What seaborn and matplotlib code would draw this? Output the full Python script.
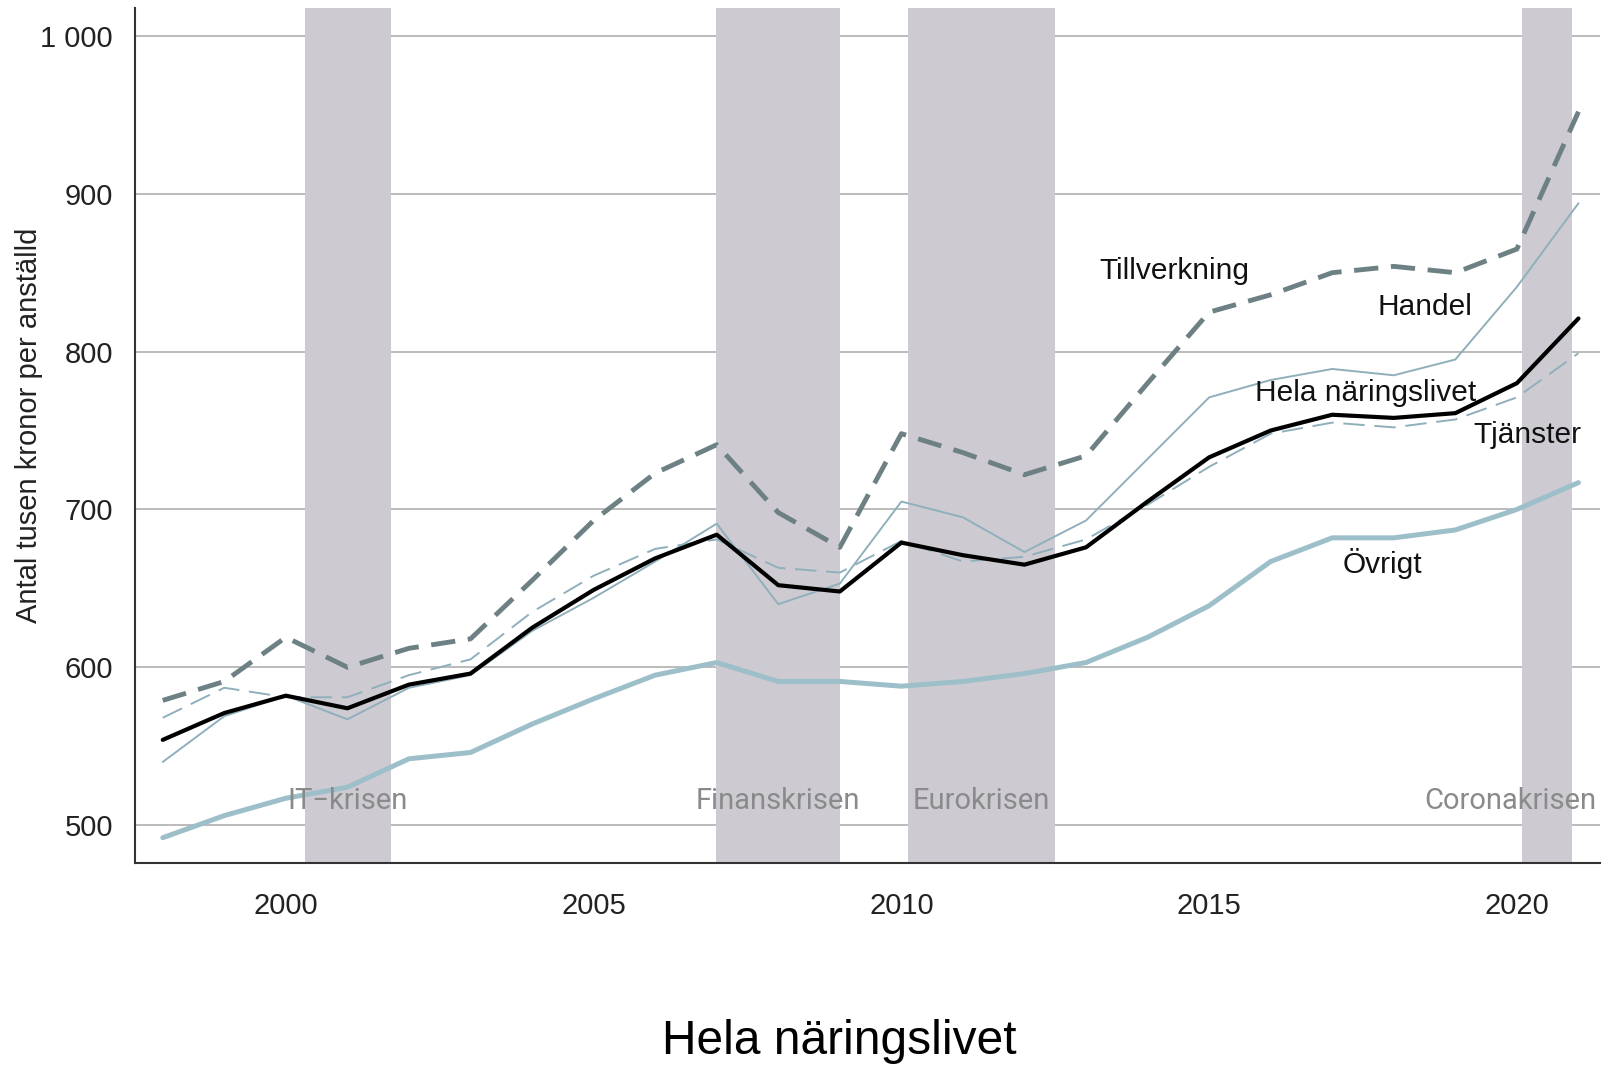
import pandas as pd
import seaborn as sns
import matplotlib.pyplot as plt

# Data (tusen kronor per anställd)
years = list(range(1998, 2022))
hela = [554, 571, 582, 574, 589, 596, 625, 649, 669, 684, 652, 648,
        679, 671, 665, 676, 705, 733, 750, 760, 758, 761, 780, 821]
tillverkning = [579, 591, 619, 600, 612, 618, 655, 693, 723, 741, 698, 676,
                748, 736, 722, 734, 780, 825, 836, 850, 854, 850, 865, 952]
handel = [540, 569, 582, 567, 587, 595, 623, 644, 667, 691, 640, 653,
          705, 695, 673, 693, 732, 771, 782, 789, 785, 795, 841, 894]
tjanster = [568, 587, 581, 581, 595, 605, 635, 658, 675, 681, 663, 660,
            680, 667, 670, 681, 703, 727, 748, 755, 752, 757, 771, 799]
ovrigt = [492, 506, 517, 524, 542, 546, 564, 580, 595, 603, 591, 591,
          588, 591, 596, 603, 619, 639, 667, 682, 682, 687, 700, 717]

series_names = ['Övrigt', 'Tjänster', 'Handel', 'Tillverkning', 'Hela näringslivet']
series_values = [ovrigt, tjanster, handel, tillverkning, hela]

crises = ['IT−krisen', 'Finanskrisen', 'Eurokrisen', 'Coronakrisen']
crisis_start = [2000.31, 2006.99, 2010.1, 2020.08]
crisis_end = [2001.71, 2009.0, 2012.49, 2020.89]

ytick_vals = [500, 600, 700, 800, 900, 1000]
ytick_labels = ['500', '600', '700', '800', '900', '1 000']
xtick_vals = [2000, 2005, 2010, 2015, 2020]

rows = []
for name, vals in zip(series_names, series_values):
    for yr, v in zip(years, vals):
        rows.append({'År': yr, 'Värde': v, 'Serie': name})
df = pd.DataFrame(rows)

sns.set_style('white')
plt.rcParams['font.family'] = ['Liberation Sans', 'DejaVu Sans']

fig = plt.figure(figsize=(16.04, 10.70), dpi=100)
ax = fig.add_axes([0.0842, 0.1935, 0.9133, 0.799])

# Krisperioder
for s, e in zip(crisis_start, crisis_end):
    ax.axvspan(s, e, color='#cdcbd1', lw=0, zorder=1)

palette = {'Övrigt': '#9dbfca', 'Tjänster': '#8fb0bb', 'Handel': '#8fb0bb',
           'Tillverkning': '#6d8185', 'Hela näringslivet': '#000000'}
dashes = {'Övrigt': '', 'Tjänster': (11, 5), 'Handel': '',
          'Tillverkning': (5, 2.6), 'Hela näringslivet': ''}
sizes = {'Övrigt': 3.6, 'Tjänster': 1.4, 'Handel': 1.4,
         'Tillverkning': 3.5, 'Hela näringslivet': 3.0}

sns.lineplot(data=df, x='År', y='Värde', hue='Serie', style='Serie', size='Serie',
             hue_order=series_names, style_order=series_names, size_order=series_names,
             palette=palette, dashes=dashes, sizes=sizes, legend=False, ax=ax, zorder=3)

ax.set_xlim(1997.55, 2021.35)
ax.set_ylim(476, 1017.7)
ax.set_yticks(ytick_vals)
ax.set_yticklabels(ytick_labels)
ax.set_xticks(xtick_vals)
ax.yaxis.grid(True, color='#b5b5b5', lw=1.3)
ax.set_axisbelow(True)
for side in ['top', 'right']:
    ax.spines[side].set_visible(False)
for side in ['left', 'bottom']:
    ax.spines[side].set_color('#333333')
    ax.spines[side].set_linewidth(1.5)
ax.tick_params(axis='both', direction='out', length=11, width=1.5, color='#333333',
               labelsize=21, labelcolor='#222222', pad=5)
ax.tick_params(axis='x', pad=10)
ax.set_xlabel('')
ax.set_ylabel('Antal tusen kronor per anställd', fontsize=21, color='#222222')
ax.yaxis.set_label_coords(-0.063, 0.512)

# Seriernas etiketter
lbl = dict(fontsize=21.5, va='center', color='#111111', zorder=5)
ax.text(2013.22, 851, 'Tillverkning', **lbl)
ax.text(2017.74, 828, 'Handel', **lbl)
ax.text(2015.74, 774, 'Hela näringslivet', **lbl)
ax.text(2019.30, 747, 'Tjänster', **lbl)
ax.text(2017.17, 666, 'Övrigt', **lbl)

# Krisernas etiketter
crisis_x = [2000.02, 2006.65, 2010.19, 2018.5]
for name, xpos in zip(crises, crisis_x):
    ax.text(xpos, 515, name, fontsize=21, va='center', color='#8a8a8a',
            family=['Roboto', 'DejaVu Sans'], zorder=5)

fig.text(0.523, 0.027, 'Hela näringslivet', fontsize=34.5, ha='center', va='center',
         color='#000000')

fig.savefig('out.png', dpi=100)
